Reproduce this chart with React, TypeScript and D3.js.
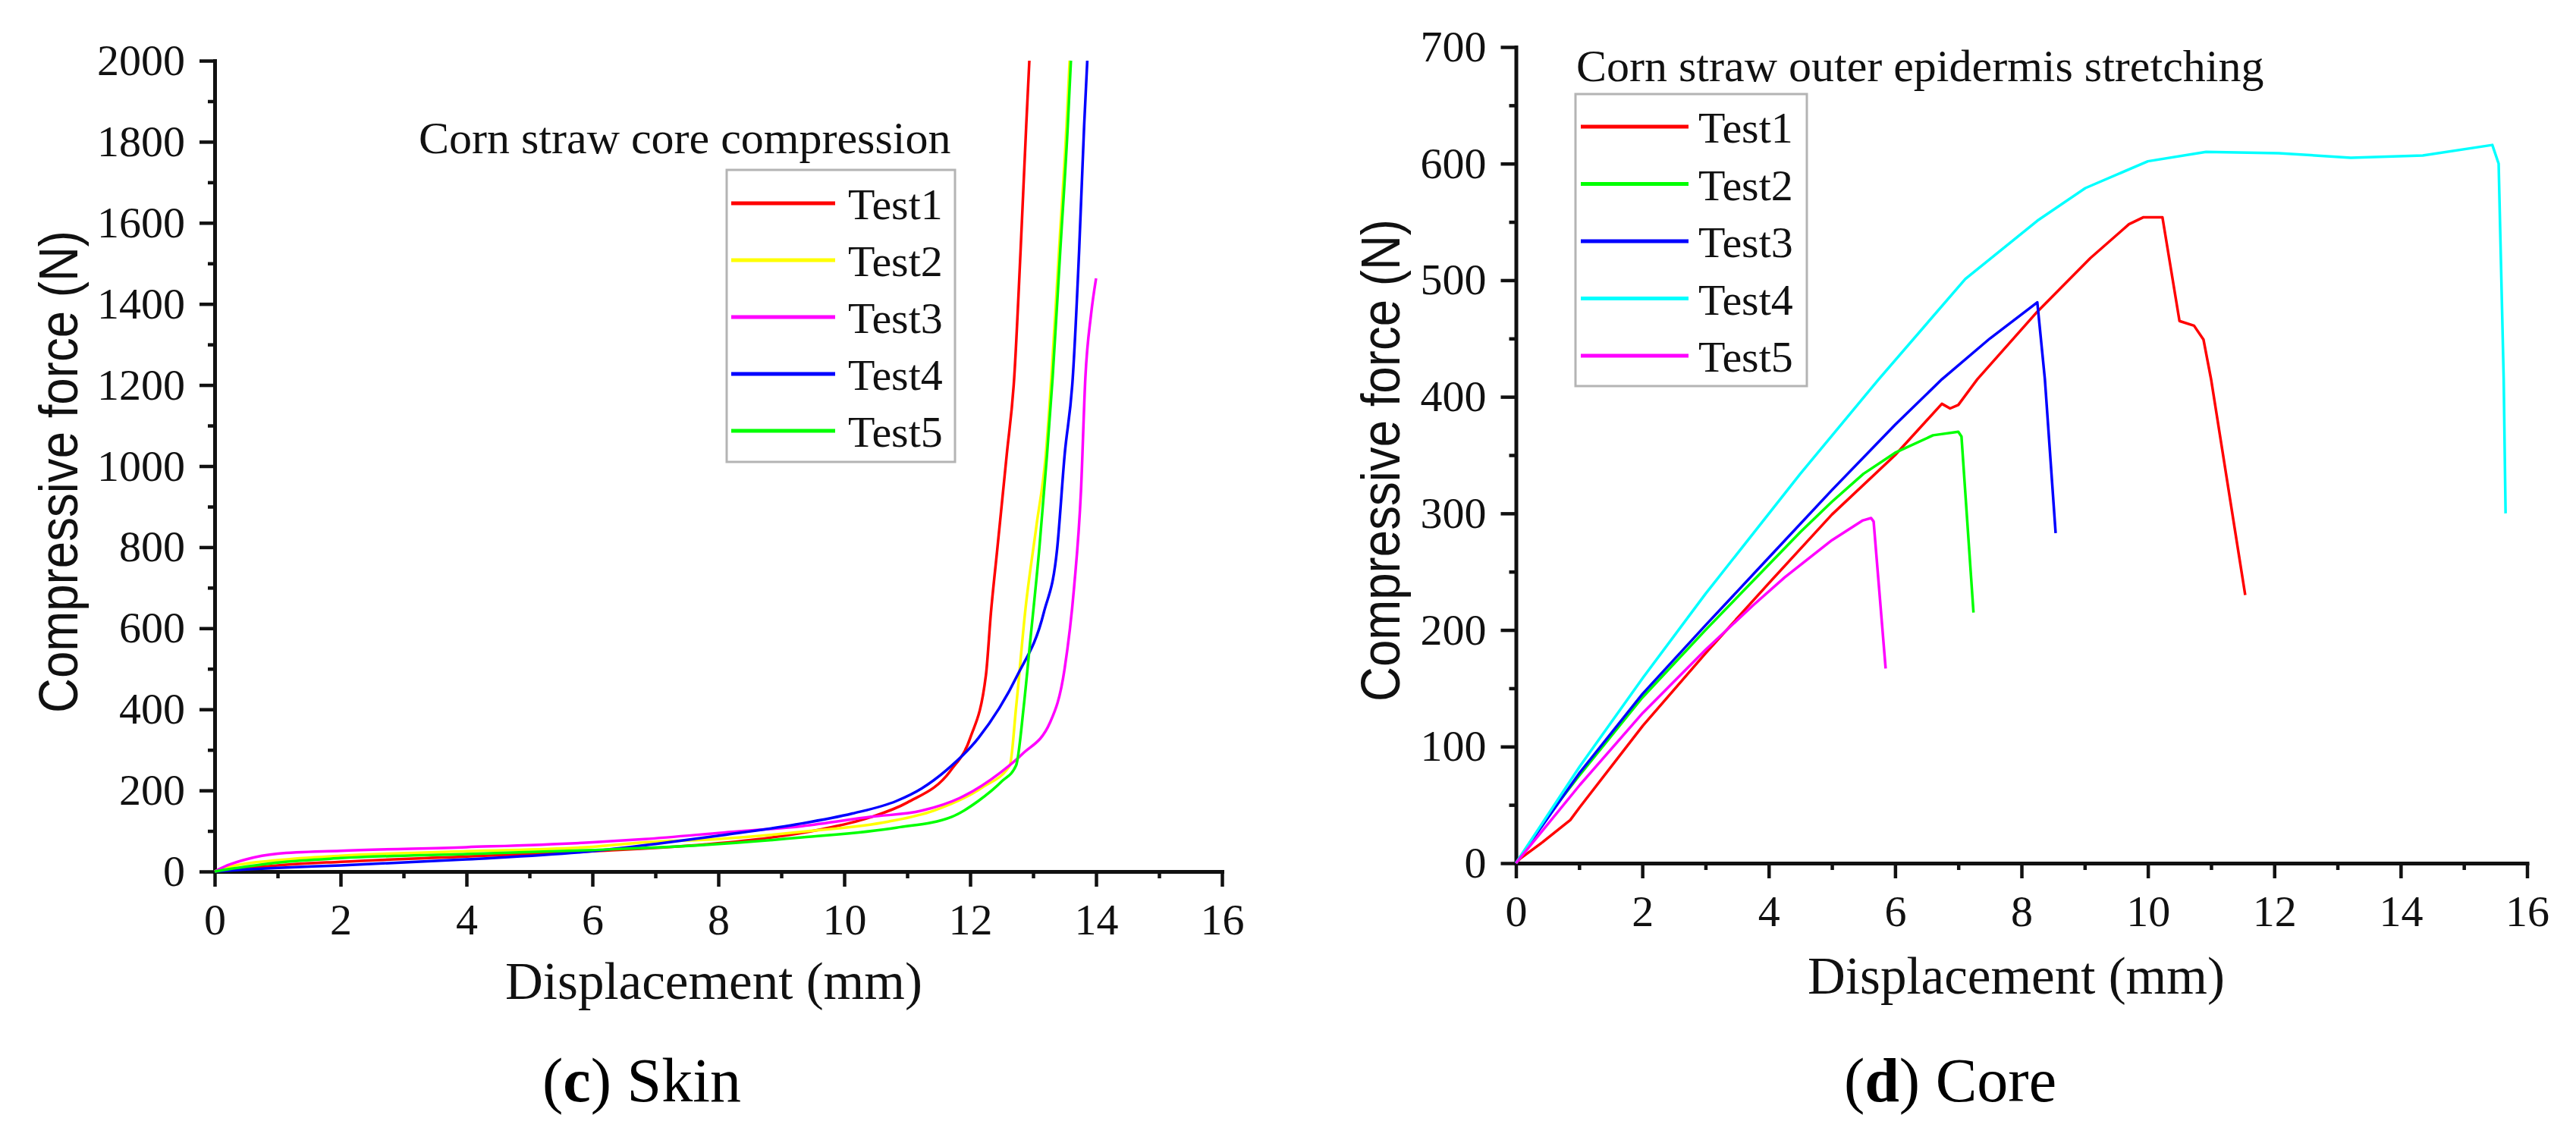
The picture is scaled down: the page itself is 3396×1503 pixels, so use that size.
import React, { useEffect, useRef } from "react";
import * as d3 from "d3";

// [displacement (mm), force (N)]
const skinTest1 = [[0, 0], [0.5, 8], [1, 15], [2, 24], [4, 37], [6, 50], [7.8, 67], [8.8, 83], [9.6, 103], [10.4, 133], [11.0, 170], [11.7, 251], [12.0, 329], [12.25, 484], [12.33, 639], [12.43, 794], [12.58, 1027], [12.7, 1219], [12.8, 1529], [12.89, 1839], [12.94, 2000]];
const skinTest2 = [[0, 0], [0.3, 14], [1, 28], [2, 39], [4, 50], [6, 61], [6.83, 72], [8, 80], [9.4, 99], [10.7, 123], [11.42, 150], [12.2, 208], [12.63, 262], [12.73, 406], [12.88, 650], [13.05, 850], [13.2, 1027], [13.29, 1219], [13.41, 1529], [13.53, 1839], [13.58, 2000]];
const skinTest3 = [[0, 0], [0.2, 15], [0.5, 30], [1, 44], [2, 51], [4, 60], [6, 72], [6.83, 80], [8.08, 96], [9.33, 112], [10.43, 135], [11.23, 150], [11.83, 181], [12.48, 244], [12.83, 290], [13.27, 368], [13.5, 500], [13.65, 700], [13.76, 939], [13.83, 1219], [13.92, 1374], [14.0, 1463]];
const skinTest4 = [[0, 0], [0.5, 5], [1, 9], [2, 15], [4, 30], [6, 50], [7, 68], [8.08, 90], [9.23, 116], [10.13, 143], [10.83, 174], [11.23, 205], [11.63, 251], [12.13, 329], [12.75, 484], [13.17, 639], [13.38, 794], [13.5, 1027], [13.63, 1219], [13.73, 1529], [13.81, 1839], [13.86, 2000]];
const skinTest5 = [[0, 0], [0.5, 12], [1, 22], [2, 33], [4, 43], [6, 53], [7.83, 66], [9.33, 84], [10.83, 108], [11.71, 135], [12.13, 174], [12.5, 222], [12.73, 262], [12.85, 406], [12.95, 562], [13.1, 800], [13.22, 1027], [13.31, 1219], [13.43, 1529], [13.55, 1839], [13.6, 2000]];

// [displacement (mm), force (N)]
const coreTest1 = [[0, 0], [0.07, 4], [0.42, 18], [0.86, 37], [1.01, 48], [2.01, 118], [3.0, 180], [4.0, 240], [5.0, 299], [6.0, 350], [6.74, 394], [6.87, 390], [7.0, 393], [7.3, 415], [8.25, 473], [9.09, 519], [9.7, 548], [9.93, 554], [10.23, 554], [10.5, 465], [10.73, 461], [10.88, 449], [11.0, 415], [11.54, 230]];
const coreTest2 = [[0, 0], [0.5, 40], [1, 75], [2, 142], [3, 200], [4, 256], [4.5, 284], [5, 310], [5.5, 334], [6, 352], [6.6, 367], [7, 370], [7.05, 366], [7.24, 215]];
const coreTest3 = [[0, 0], [1, 77], [2, 145], [3, 204], [4, 262], [5, 320], [6, 376], [6.74, 415], [7.5, 450], [8.25, 481], [8.37, 415], [8.54, 283]];
const coreTest4 = [[0, 0], [1.01, 83], [2.01, 159], [3.0, 231], [4.5, 334], [5.74, 415], [7.11, 501], [8.25, 551], [9.01, 579], [10.0, 602], [10.92, 610], [12.07, 609], [13.21, 605], [14.35, 607], [15.45, 616], [15.55, 600], [15.63, 415], [15.66, 300]];
const coreTest5 = [[0, 0], [1.01, 67], [2.01, 129], [3.0, 183], [3.75, 221], [4.25, 245], [5.0, 277], [5.49, 294], [5.62, 296], [5.66, 293], [5.85, 167]];

const displacementTicks = [0, 2, 4, 6, 8, 10, 12, 14, 16];
const skinForceTicks = [0, 200, 400, 600, 800, 1000, 1200, 1400, 1600, 1800, 2000];
const coreForceTicks = [0, 100, 200, 300, 400, 500, 600, 700];
const testNames = ["Test1", "Test2", "Test3", "Test4", "Test5"];

const SERIF = "'Liberation Serif', 'Times New Roman', serif";
const SANS = "'Liberation Sans', Arial, sans-serif";

const panels = [
  {
    left: 283, right: 1611, top: 80, bottom: 1149,
    yMax: 2000, yTicks: skinForceTicks, yMinorStep: 200,
    smooth: true,
    series: [
      { name: testNames[0], color: "#ff0000", data: skinTest1 },
      { name: testNames[1], color: "#ffff00", data: skinTest2 },
      { name: testNames[2], color: "#ff00ff", data: skinTest3 },
      { name: testNames[3], color: "#0000ff", data: skinTest4 },
      { name: testNames[4], color: "#00ff00", data: skinTest5 },
    ],
    title: "Corn straw core compression", titleX: 552, titleY: 202,
    legend: { x: 958, y: 224, w: 301, h: 385, first: 268, step: 75, lineX0: 964, lineX1: 1101, textX: 1118 },
    yTitleX: 102, yTitleY: 622,
    xTitleX: 941, xTitleDy: 168,
    captionX: 846, captionLetter: "c", captionWord: "Skin",
  },
  {
    left: 1998.5, right: 3331.5, top: 62, bottom: 1138,
    yMax: 700, yTicks: coreForceTicks, yMinorStep: 100,
    smooth: false,
    series: [
      { name: testNames[0], color: "#ff0000", data: coreTest1 },
      { name: testNames[1], color: "#00ff00", data: coreTest2 },
      { name: testNames[2], color: "#0000ff", data: coreTest3 },
      { name: testNames[3], color: "#00ffff", data: coreTest4 },
      { name: testNames[4], color: "#ff00ff", data: coreTest5 },
    ],
    title: "Corn straw outer epidermis stretching", titleX: 2078, titleY: 107,
    legend: { x: 2077, y: 124, w: 305, h: 385, first: 167, step: 75.5, lineX0: 2084, lineX1: 2226, textX: 2239 },
    yTitleX: 1845, yTitleY: 607,
    xTitleX: 2658, xTitleDy: 172,
    captionX: 2571, captionLetter: "d", captionWord: "Core",
  },
];

function drawPanel(svg, p) {
  const x = d3.scaleLinear().domain([0, 16]).range([p.left, p.right]);
  const y = d3.scaleLinear().domain([0, p.yMax]).range([p.bottom, p.top]);
  const g = svg.append("g");

  const styleAxis = (s) => {
    s.attr("color", "#111").attr("font-family", SERIF).attr("font-size", 58);
    s.select(".domain").attr("stroke-width", 5).attr("stroke-linecap", "square");
    s.selectAll(".tick line").attr("stroke-width", 4.5);
    s.selectAll(".tick text").attr("fill", "#111").attr("font-family", SERIF);
  };

  // minor ticks
  const xMinor = d3.range(1, 16, 2);
  const yMinor = d3.range(p.yMinorStep / 2, p.yMax, p.yMinorStep);
  g.append("g")
    .attr("transform", `translate(0,${p.bottom})`)
    .call(d3.axisBottom(x).tickValues(xMinor).tickSize(9).tickSizeOuter(0).tickFormat(() => ""))
    .call(styleAxis)
    .call((s) => s.select(".domain").remove());
  g.append("g")
    .attr("transform", `translate(${p.left},0)`)
    .call(d3.axisLeft(y).tickValues(yMinor).tickSize(9).tickSizeOuter(0).tickFormat(() => ""))
    .call(styleAxis)
    .call((s) => s.select(".domain").remove());

  // major axes
  g.append("g")
    .attr("transform", `translate(0,${p.bottom})`)
    .call(d3.axisBottom(x).tickValues(displacementTicks).tickSize(20).tickSizeOuter(0).tickPadding(22).tickFormat(d3.format("d")))
    .call(styleAxis);
  g.append("g")
    .attr("transform", `translate(${p.left},0)`)
    .call(d3.axisLeft(y).tickValues(p.yTicks).tickSize(20).tickSizeOuter(0).tickPadding(19).tickFormat(d3.format("d")))
    .call(styleAxis);

  // curves
  const line = d3
    .line<number[]>()
    .x((d) => x(d[0]))
    .y((d) => y(d[1]))
    .curve(p.smooth ? d3.curveMonotoneX : d3.curveLinear);
  g.selectAll("path.curve")
    .data(p.series)
    .join("path")
    .attr("class", "curve")
    .attr("fill", "none")
    .attr("stroke", (d: any) => d.color)
    .attr("stroke-width", 3.5)
    .attr("stroke-linejoin", "round")
    .attr("d", (d: any) => line(d.data));

  // title
  g.append("text")
    .attr("x", p.titleX)
    .attr("y", p.titleY)
    .attr("font-family", SERIF)
    .attr("font-size", 60)
    .attr("fill", "#111")
    .text(p.title);

  // legend
  const L = p.legend;
  const lg = g.append("g");
  lg.append("rect")
    .attr("x", L.x)
    .attr("y", L.y)
    .attr("width", L.w)
    .attr("height", L.h)
    .attr("fill", "#fff")
    .attr("stroke", "#b4b4b4")
    .attr("stroke-width", 3);
  lg.selectAll("line.key")
    .data(p.series)
    .join("line")
    .attr("class", "key")
    .attr("x1", L.lineX0)
    .attr("x2", L.lineX1)
    .attr("y1", (_d, i) => L.first + i * L.step)
    .attr("y2", (_d, i) => L.first + i * L.step)
    .attr("stroke", (d: any) => d.color)
    .attr("stroke-width", 5);
  lg.selectAll("text.key")
    .data(p.series)
    .join("text")
    .attr("class", "key")
    .attr("x", L.textX)
    .attr("y", (_d, i) => L.first + i * L.step + 21)
    .attr("font-family", SERIF)
    .attr("font-size", 58)
    .attr("fill", "#111")
    .text((d: any) => d.name);

  // axis titles
  g.append("text")
    .attr("transform", `translate(${p.yTitleX},${p.yTitleY}) rotate(-90)`)
    .attr("text-anchor", "middle")
    .attr("font-family", SANS)
    .attr("font-size", 72)
    .attr("textLength", 636)
    .attr("lengthAdjust", "spacingAndGlyphs")
    .attr("fill", "#111")
    .text("Compressive force (N)");
  g.append("text")
    .attr("x", p.xTitleX)
    .attr("y", p.bottom + p.xTitleDy)
    .attr("text-anchor", "middle")
    .attr("font-family", SERIF)
    .attr("font-size", 69)
    .attr("fill", "#111")
    .text("Displacement (mm)");

  // caption
  const cap = g
    .append("text")
    .attr("x", p.captionX)
    .attr("y", 1452)
    .attr("text-anchor", "middle")
    .attr("font-family", SERIF)
    .attr("font-size", 82)
    .attr("fill", "#000");
  cap.append("tspan").text("(");
  cap.append("tspan").attr("font-weight", "bold").text(p.captionLetter);
  cap.append("tspan").text(") " + p.captionWord);
}

const App = () => {
  const svgRef = useRef<SVGSVGElement>(null);

  useEffect(() => {
    const svg = d3.select(svgRef.current);
    svg.selectAll("*").remove();
    panels.forEach((p) => drawPanel(svg, p));
  }, []);

  return (
    <svg
      ref={svgRef}
      width={3396}
      height={1503}
      viewBox="0 0 3396 1503"
      style={{ position: "absolute", left: 0, top: 0, background: "#fff" }}
    />
  );
};

export default App;
